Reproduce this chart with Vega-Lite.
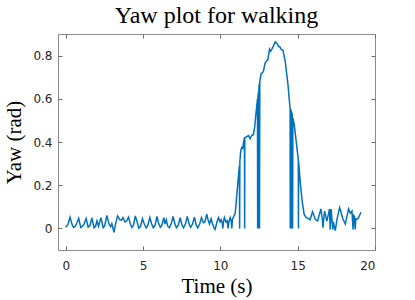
{
  "$schema": "https://vega.github.io/schema/vega-lite/v6.json",
  "autosize": {"type": "none"},
  "width": 317,
  "height": 216,
  "padding": {"left": 58, "top": 34, "right": 40, "bottom": 50},
  "background": "white",
  "title": {
    "text": "Yaw plot for walking",
    "font": "Liberation Serif",
    "fontSize": 24,
    "fontWeight": "normal",
    "color": "#000000",
    "anchor": "middle",
    "frame": "group",
    "offset": 6
  },
  "config": {
    "view": {"stroke": "#8a8a8a", "strokeWidth": 1},
    "axis": {
      "grid": false,
      "domain": false,
      "tickColor": "#6e6e6e",
      "tickSize": -4,
      "tickWidth": 1,
      "labelFont": "DejaVu Sans",
      "labelFontSize": 12,
      "labelColor": "#262626",
      "titleFont": "Liberation Serif",
      "titleFontSize": 21,
      "titleFontWeight": "normal",
      "titleColor": "#000000"
    }
  },
  "data": {
    "values": [
      {"t": 0.0, "v": 0.005}, {"t": 0.15, "v": 0.02}, {"t": 0.28, "v": 0.052}, {"t": 0.4, "v": 0.02},
      {"t": 0.5, "v": 0.005}, {"t": 0.62, "v": 0.01}, {"t": 0.72, "v": 0.025}, {"t": 0.84, "v": 0.047},
      {"t": 0.97, "v": 0.004}, {"t": 1.08, "v": 0.01}, {"t": 1.18, "v": 0.02}, {"t": 1.32, "v": 0.046},
      {"t": 1.45, "v": 0.006}, {"t": 1.56, "v": 0.012}, {"t": 1.69, "v": 0.048}, {"t": 1.83, "v": 0.003},
      {"t": 1.93, "v": 0.01}, {"t": 2.02, "v": 0.035}, {"t": 2.12, "v": 0.01}, {"t": 2.28, "v": 0.05},
      {"t": 2.42, "v": 0.004}, {"t": 2.52, "v": 0.012}, {"t": 2.66, "v": 0.06}, {"t": 2.8, "v": 0.02},
      {"t": 2.9, "v": 0.008}, {"t": 2.98, "v": 0.022}, {"t": 3.12, "v": -0.018}, {"t": 3.22, "v": 0.02},
      {"t": 3.35, "v": 0.058}, {"t": 3.5, "v": 0.04}, {"t": 3.6, "v": 0.038}, {"t": 3.7, "v": 0.05},
      {"t": 3.84, "v": 0.03}, {"t": 3.95, "v": 0.035}, {"t": 4.06, "v": 0.052}, {"t": 4.18, "v": 0.02},
      {"t": 4.28, "v": 0.004}, {"t": 4.38, "v": 0.015}, {"t": 4.5, "v": 0.058}, {"t": 4.62, "v": 0.03},
      {"t": 4.72, "v": 0.002}, {"t": 4.84, "v": 0.01}, {"t": 4.96, "v": 0.045}, {"t": 5.08, "v": 0.02},
      {"t": 5.2, "v": 0.003}, {"t": 5.3, "v": 0.012}, {"t": 5.44, "v": 0.05}, {"t": 5.56, "v": 0.02},
      {"t": 5.66, "v": 0.003}, {"t": 5.78, "v": 0.015}, {"t": 5.9, "v": 0.055}, {"t": 6.02, "v": 0.02},
      {"t": 6.12, "v": 0.005}, {"t": 6.22, "v": 0.015}, {"t": 6.34, "v": 0.05}, {"t": 6.42, "v": 0.02},
      {"t": 6.5, "v": 0.04}, {"t": 6.6, "v": 0.01}, {"t": 6.7, "v": 0.003}, {"t": 6.82, "v": 0.02},
      {"t": 6.94, "v": 0.055}, {"t": 7.06, "v": 0.02}, {"t": 7.16, "v": 0.003}, {"t": 7.28, "v": 0.015},
      {"t": 7.4, "v": 0.05}, {"t": 7.52, "v": 0.015}, {"t": 7.62, "v": 0.003}, {"t": 7.74, "v": 0.02},
      {"t": 7.86, "v": 0.056}, {"t": 7.98, "v": 0.02}, {"t": 8.08, "v": 0.005}, {"t": 8.2, "v": 0.02},
      {"t": 8.32, "v": 0.052}, {"t": 8.44, "v": 0.015}, {"t": 8.54, "v": 0.002}, {"t": 8.66, "v": 0.02},
      {"t": 8.78, "v": 0.05}, {"t": 8.9, "v": 0.026}, {"t": 9.0, "v": 0.03}, {"t": 9.12, "v": 0.066},
      {"t": 9.22, "v": 0.035}, {"t": 9.3, "v": 0.02}, {"t": 9.4, "v": 0.045}, {"t": 9.5, "v": 0.02},
      {"t": 9.6, "v": 0.0}, {"t": 9.66, "v": -0.005}, {"t": 9.78, "v": 0.03}, {"t": 9.88, "v": 0.05},
      {"t": 9.98, "v": 0.03}, {"t": 10.05, "v": 0.04}, {"t": 10.12, "v": 0.025}, {"t": 10.16, "v": 0.0},
      {"t": 10.2, "v": 0.03}, {"t": 10.26, "v": 0.05}, {"t": 10.36, "v": 0.03}, {"t": 10.44, "v": 0.035},
      {"t": 10.5, "v": 0.0}, {"t": 10.55, "v": 0.03}, {"t": 10.64, "v": 0.05}, {"t": 10.7, "v": 0.035},
      {"t": 10.74, "v": 0.0}, {"t": 10.78, "v": 0.04}, {"t": 10.86, "v": 0.055}, {"t": 10.96, "v": 0.07},
      {"t": 11.07, "v": 0.16}, {"t": 11.18, "v": 0.25}, {"t": 11.23, "v": 0.29}, {"t": 11.245, "v": 0.0},
      {"t": 11.26, "v": 0.31}, {"t": 11.32, "v": 0.36}, {"t": 11.38, "v": 0.375}, {"t": 11.45, "v": 0.37},
      {"t": 11.5, "v": 0.4}, {"t": 11.56, "v": 0.42}, {"t": 11.57, "v": 0.0}, {"t": 11.58, "v": 0.42},
      {"t": 11.7, "v": 0.425}, {"t": 11.82, "v": 0.43}, {"t": 11.93, "v": 0.415}, {"t": 12.02, "v": 0.43},
      {"t": 12.14, "v": 0.435}, {"t": 12.22, "v": 0.47}, {"t": 12.3, "v": 0.53}, {"t": 12.4, "v": 0.6},
      {"t": 12.41, "v": 0.0}, {"t": 12.43, "v": 0.61}, {"t": 12.46, "v": 0.63}, {"t": 12.47, "v": 0.0},
      {"t": 12.49, "v": 0.65}, {"t": 12.52, "v": 0.67}, {"t": 12.53, "v": 0.0}, {"t": 12.55, "v": 0.68},
      {"t": 12.64, "v": 0.718}, {"t": 12.72, "v": 0.72}, {"t": 12.79, "v": 0.73}, {"t": 12.9, "v": 0.768},
      {"t": 13.0, "v": 0.775}, {"t": 13.07, "v": 0.78}, {"t": 13.18, "v": 0.83}, {"t": 13.25, "v": 0.82},
      {"t": 13.33, "v": 0.83}, {"t": 13.44, "v": 0.846}, {"t": 13.55, "v": 0.864}, {"t": 13.63, "v": 0.858},
      {"t": 13.7, "v": 0.852}, {"t": 13.78, "v": 0.842}, {"t": 13.85, "v": 0.84}, {"t": 13.94, "v": 0.828},
      {"t": 14.04, "v": 0.826}, {"t": 14.12, "v": 0.8}, {"t": 14.19, "v": 0.776}, {"t": 14.28, "v": 0.72},
      {"t": 14.37, "v": 0.668}, {"t": 14.45, "v": 0.6}, {"t": 14.51, "v": 0.555}, {"t": 14.52, "v": 0.0},
      {"t": 14.54, "v": 0.55}, {"t": 14.58, "v": 0.545}, {"t": 14.59, "v": 0.0}, {"t": 14.61, "v": 0.54},
      {"t": 14.66, "v": 0.52}, {"t": 14.67, "v": 0.0}, {"t": 14.69, "v": 0.51}, {"t": 14.78, "v": 0.48},
      {"t": 14.86, "v": 0.43}, {"t": 14.95, "v": 0.374}, {"t": 15.04, "v": 0.32}, {"t": 15.05, "v": 0.0},
      {"t": 15.06, "v": 0.31}, {"t": 15.17, "v": 0.21}, {"t": 15.3, "v": 0.12}, {"t": 15.42, "v": 0.065},
      {"t": 15.55, "v": 0.05}, {"t": 15.7, "v": 0.045}, {"t": 15.8, "v": 0.04}, {"t": 15.96, "v": 0.077},
      {"t": 16.14, "v": 0.042}, {"t": 16.29, "v": 0.034}, {"t": 16.5, "v": 0.09}, {"t": 16.6, "v": 0.04},
      {"t": 16.63, "v": 0.003}, {"t": 16.74, "v": 0.08}, {"t": 16.89, "v": 0.034}, {"t": 17.06, "v": 0.09},
      {"t": 17.1, "v": -0.005}, {"t": 17.16, "v": 0.09}, {"t": 17.22, "v": 0.04}, {"t": 17.27, "v": -0.005},
      {"t": 17.3, "v": 0.03}, {"t": 17.43, "v": -0.01}, {"t": 17.54, "v": 0.042}, {"t": 17.71, "v": 0.096},
      {"t": 17.82, "v": 0.07}, {"t": 17.93, "v": 0.042}, {"t": 18.08, "v": 0.02}, {"t": 18.29, "v": 0.09},
      {"t": 18.4, "v": 0.07}, {"t": 18.51, "v": 0.08}, {"t": 18.58, "v": -0.005}, {"t": 18.62, "v": 0.06},
      {"t": 18.66, "v": 0.057}, {"t": 18.72, "v": -0.005}, {"t": 18.76, "v": 0.045}, {"t": 18.83, "v": 0.042},
      {"t": 18.94, "v": 0.05}, {"t": 19.09, "v": 0.075}
    ]
  },
  "layer": [
    {
      "mark": {"type": "line", "color": "#0072BD", "strokeWidth": 1.5, "clip": true},
      "encoding": {
        "x": {
          "field": "t", "type": "quantitative",
          "scale": {"domain": [-0.5, 20], "nice": false, "zero": false},
          "axis": {
            "orient": "bottom", "values": [0, 5, 10, 15, 20], "labelPadding": 14,
            "title": "Time (s)", "titleY": 42, "titleBaseline": "alphabetic", "titleAnchor": "middle"
          }
        },
        "y": {
          "field": "v", "type": "quantitative",
          "scale": {"domain": [-0.1, 0.9], "nice": false, "zero": false},
          "axis": {
            "orient": "left", "values": [0, 0.2, 0.4, 0.6, 0.8], "labelPadding": 10,
            "labelExpr": "datum.value == 0 ? '0' : format(datum.value, '.1f')",
            "title": "Yaw (rad)", "titleX": -38, "titleY": 108, "titleBaseline": "alphabetic", "titleAngle": -90, "titleAlign": "center"
          }
        }
      }
    },
    {
      "mark": {"type": "line", "opacity": 0},
      "encoding": {
        "x": {
          "field": "t", "type": "quantitative",
          "axis": {"orient": "top", "values": [0, 5, 10, 15, 20], "labels": false, "title": null}
        },
        "y": {
          "field": "v", "type": "quantitative",
          "axis": {"orient": "right", "values": [0, 0.2, 0.4, 0.6, 0.8], "labels": false, "title": null}
        }
      }
    }
  ],
  "resolve": {"axis": {"x": "independent", "y": "independent"}}
}
